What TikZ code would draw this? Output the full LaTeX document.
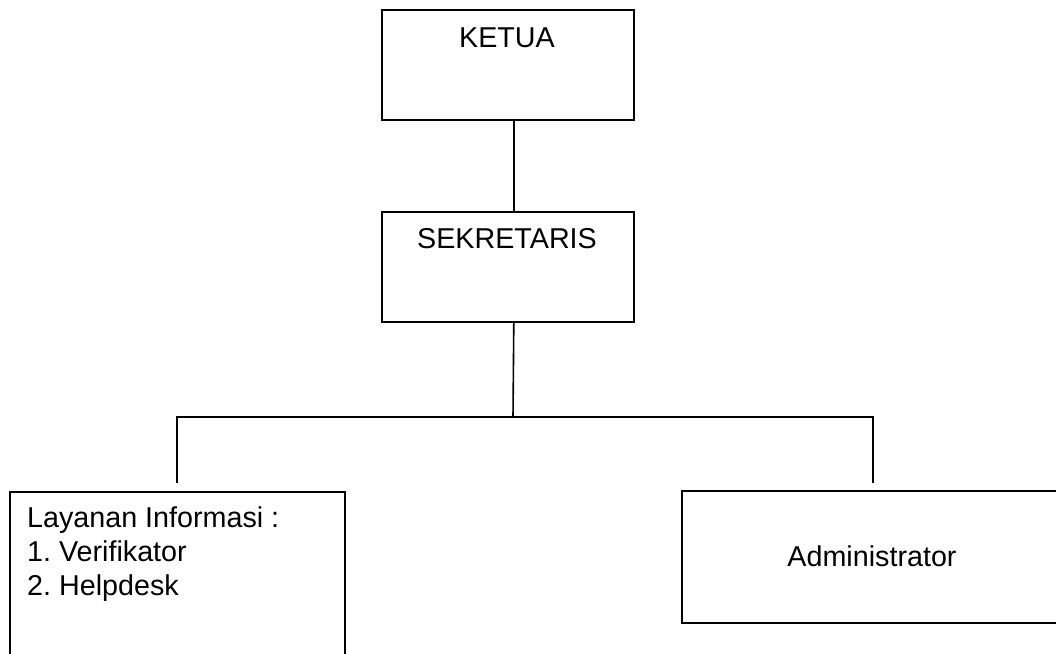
\documentclass[tikz,border=0pt]{standalone}
\usepackage{fontspec}
\setmainfont{Liberation Sans}
\frenchspacing
\begin{document}
\begin{tikzpicture}[x=1pt,y=-1pt,
  box/.style={draw=black,line width=1.6pt,fill=none,inner sep=0pt,anchor=north west},
  lbl/.style={font=\fontsize{28.7}{34}\selectfont,inner sep=0pt},
  conn/.style={draw=black,line width=1.6pt}]
\useasboundingbox (0,0) rectangle (1056,653);
\clip (0,0) rectangle (1056,653);
\node[box,minimum width=252pt,minimum height=110pt] (ketua) at (381,9) {};
\node[lbl] (ketuatxt) at (507,38) {KETUA};
\node[box,minimum width=252pt,minimum height=110pt] (sekr) at (381,211) {};
\node[lbl] (sekrtxt) at (507,239) {SEKRETARIS};
\node[box,minimum width=335pt,minimum height=220pt] (layanan) at (9,491) {};
\node[lbl,align=left,anchor=north west] (layanantxt) at (27,506) {\frenchspacing Layanan Informasi :\\1. Verifikator\\2. Helpdesk};
\node[box,minimum width=412pt,minimum height=132pt] (admin) at (681,490) {};
\node[lbl] (admintxt) at (872,556) {Administrator};
\coordinate (hmid) at (513,417);
\coordinate (hl) at (177,417);
\coordinate (hr) at (873,417);
\coordinate (ld) at (177,483);
\coordinate (rd) at (873,483);
\draw[conn] ([xshift=6pt]ketua.south) -- ([xshift=6pt]sekr.north);
\draw[conn] ([xshift=6pt]sekr.south) -- (hmid);
\draw[conn] (ld) -- (hl) -- (hr) -- (rd);
\end{tikzpicture}
\end{document}
